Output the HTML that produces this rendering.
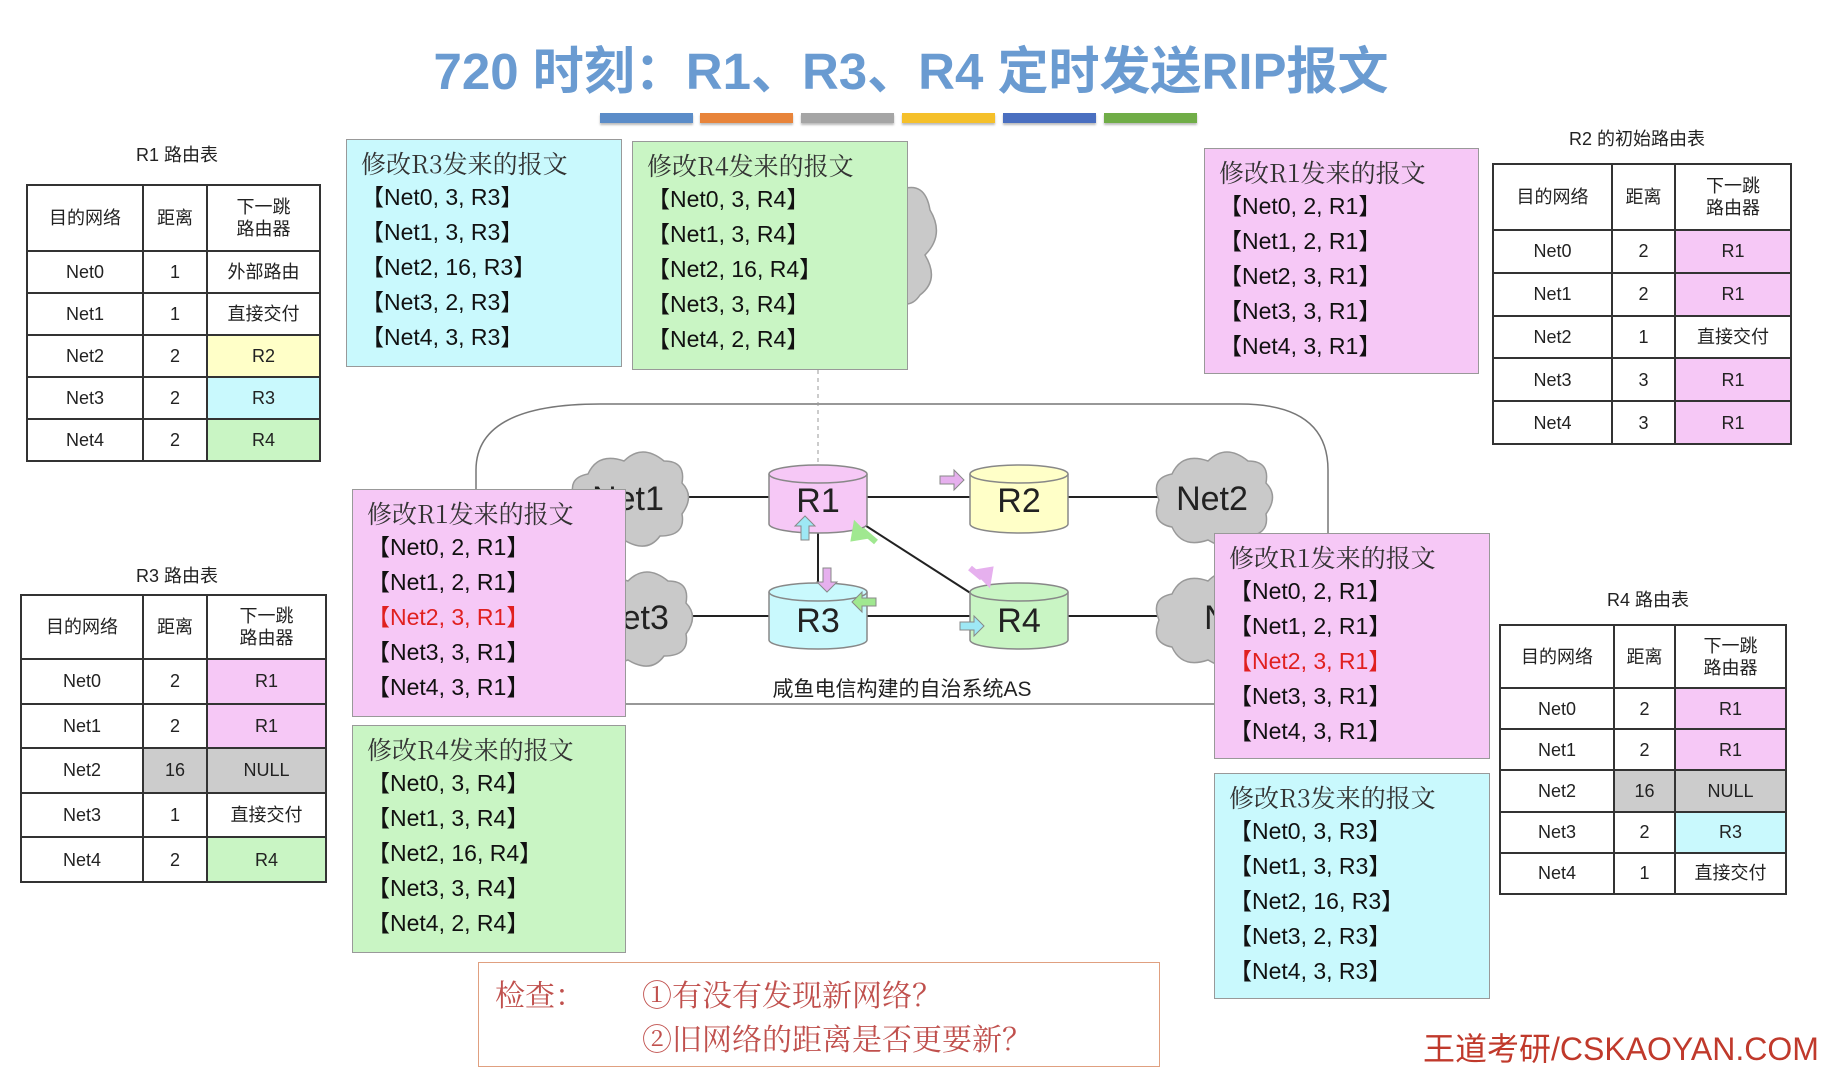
<!DOCTYPE html>
<html><head><meta charset="utf-8"><style>
body{margin:0;width:1822px;height:1079px;background:#fff;position:relative;overflow:hidden;font-family:"Liberation Sans","Noto Sans CJK SC",sans-serif}
.a{position:absolute}
.title{left:0;width:1822px;top:30px;text-align:center;font-size:51px;font-weight:bold;color:#6a9bd1}
.bar{position:absolute;top:113px;height:10px;width:93px;box-shadow:0 2px 2px #bbb}
table{position:absolute;border-collapse:collapse;font-size:18px;color:#222}
td{border:2px solid #333;text-align:center;padding:0;line-height:22px}
.lbl{font-size:18px;color:#222;text-align:center;width:200px}
.box{position:absolute;border:1.5px solid #999;box-sizing:border-box;padding:6px 0 0 14px;font-size:23px;line-height:35px;color:#111}
.box .t{font-size:25px;color:#333;margin-bottom:-1px;font-family:"Noto Serif CJK SC","Liberation Serif",serif}
.pk{background:#f6c8f6}.cy{background:#c9f9fd}.gr{background:#c9f5c4}
.red{color:#e02020}
</style></head><body>
<div class="a title">720 时刻：R1、R3、R4 定时发送RIP报文</div>
<div class="bar" style="left:600px;background:#5b8cc8"></div>
<div class="bar" style="left:700px;background:#e8843a"></div>
<div class="bar" style="left:801px;background:#a5a5a5"></div>
<div class="bar" style="left:902px;background:#f5c02a"></div>
<div class="bar" style="left:1003px;background:#4a6fc0"></div>
<div class="bar" style="left:1104px;background:#70ad47"></div>

<svg class="a" style="left:0;top:0" width="1822" height="1079">
<path d="M476 704 L476 470 Q476 404 600 404 L1240 404 Q1328 404 1328 470 L1328 704 Z" fill="none" stroke="#777" stroke-width="1.5"/>
<line x1="818" y1="370" x2="818" y2="465" stroke="#999" stroke-dasharray="4,4"/>
<line x1="627" y1="497" x2="1212" y2="497" stroke="#222" stroke-width="2"/>
<line x1="633" y1="616" x2="1197" y2="616" stroke="#222" stroke-width="2"/>
<line x1="818" y1="532" x2="818" y2="583" stroke="#222" stroke-width="2"/>
<line x1="860" y1="522" x2="972" y2="594" stroke="#222" stroke-width="2"/>
<g fill="#c9c9c9" stroke="#999" stroke-width="1.5">
<path d="M588 474 q10-22 36-13 q18-18 40 0 q22 0 18 22 q13 13 0 31 q4 22-22 22 q-13 18-36 4 q-26 9-36-13 q-22-4-13-27 q-9-22 13-26z"/>
<path d="M592 594 q10-22 36-13 q18-18 40 0 q22 0 18 22 q13 13 0 31 q4 22-22 22 q-13 18-36 4 q-26 9-36-13 q-22-4-13-27 q-9-22 13-26z"/>
<path d="M1172 474 q10-22 36-13 q18-18 40 0 q22 0 18 22 q13 13 0 31 q4 22-22 22 q-13 18-36 4 q-26 9-36-13 q-22-4-13-27 q-9-22 13-26z"/>
<path d="M1172 594 q10-22 36-13 q18-18 40 0 q22 0 18 22 q13 13 0 31 q4 22-22 22 q-13 18-36 4 q-26 9-36-13 q-22-4-13-27 q-9-22 13-26z"/>
<path d="M900 190 q25-10 30 20 q15 25-5 45 q15 25-5 40 q-10 15-25 5z"/>
</g>
<g font-size="34" fill="#222" text-anchor="middle">
<text x="628" y="510">Net1</text><text x="1212" y="510">Net2</text>
<text x="633" y="629">Net3</text><text x="1240" y="629">Net4</text>
</g>
<g stroke="#888" stroke-width="1.5">
<path d="M769 474 v50 a49 9 0 0 0 98 0 v-50" fill="#f6c8f6"/><ellipse cx="818" cy="474" rx="49" ry="9" fill="#f6c8f6"/>
<path d="M970 474 v50 a49 9 0 0 0 98 0 v-50" fill="#ffffc8"/><ellipse cx="1019" cy="474" rx="49" ry="9" fill="#ffffc8"/>
<path d="M769 592 v48 a49 9 0 0 0 98 0 v-48" fill="#c9f9fd"/><ellipse cx="818" cy="592" rx="49" ry="9" fill="#c9f9fd"/>
<path d="M970 592 v48 a49 9 0 0 0 98 0 v-48" fill="#c9f5c4"/><ellipse cx="1019" cy="592" rx="49" ry="9" fill="#c9f5c4"/>
</g>
<g font-size="34" fill="#222" text-anchor="middle">
<text x="818" y="512">R1</text><text x="1019" y="512">R2</text>
<text x="818" y="632">R3</text><text x="1019" y="632">R4</text>
</g>
<g stroke="#888" stroke-width="1">
<path d="M940 476 h14 v-6 l10 10 -10 10 v-6 h-14z" fill="#e6b0ee"/>
<path d="M801 540 v-14 h-6 l10 -10 10 10 h-6 v14z" fill="#9ee8f5"/>
<path d="M823 568 v14 h-6 l10 10 10-10 h-6 v-14z" fill="#e6b0ee"/>
<path d="M960 622 h14 v-6 l10 10 -10 10 v-6 h-14z" fill="#9ee8f5"/>
<path d="M876 598 h-14 v-6 l-10 10 10 10 v-6 h14z" fill="#a0e890"/>
<path d="M866 536 l-10 -10 -2 12z M862 530 l14 12" fill="#a0e890" stroke-width="6" stroke="#a0e890"/>
<path d="M978 572 l10 10 2-12z M982 578 l-12-10" fill="#e6b0ee" stroke-width="6" stroke="#e6b0ee"/>
</g>
<text x="902" y="696" font-size="21" fill="#222" text-anchor="middle">咸鱼电信构建的自治系统AS</text>
</svg>

<div class="a lbl" style="left:77px;top:141px">R1 路由表</div>
<table style="left:26px;top:184px;width:295px;height:278px">
<tr style="height:66px"><td style="width:114px">目的网络</td><td style="width:62px">距离</td><td>下一跳<br>路由器</td></tr>
<tr><td>Net0</td><td>1</td><td>外部路由</td></tr>
<tr><td>Net1</td><td>1</td><td>直接交付</td></tr>
<tr><td>Net2</td><td>2</td><td style="background:#ffffc8">R2</td></tr>
<tr><td>Net3</td><td>2</td><td style="background:#c9f9fd">R3</td></tr>
<tr><td>Net4</td><td>2</td><td style="background:#c9f5c4">R4</td></tr>
</table>

<div class="a lbl" style="left:77px;top:562px">R3 路由表</div>
<table style="left:20px;top:594px;width:307px;height:289px">
<tr style="height:64px"><td style="width:120px">目的网络</td><td style="width:62px">距离</td><td>下一跳<br>路由器</td></tr>
<tr><td>Net0</td><td>2</td><td style="background:#f6c8f6">R1</td></tr>
<tr><td>Net1</td><td>2</td><td style="background:#f6c8f6">R1</td></tr>
<tr><td>Net2</td><td style="background:#ccc">16</td><td style="background:#ccc">NULL</td></tr>
<tr><td>Net3</td><td>1</td><td>直接交付</td></tr>
<tr><td>Net4</td><td>2</td><td style="background:#c9f5c4">R4</td></tr>
</table>

<div class="a lbl" style="left:1537px;top:125px">R2 的初始路由表</div>
<table style="left:1492px;top:163px;width:300px;height:282px">
<tr style="height:66px"><td style="width:117px">目的网络</td><td style="width:61px">距离</td><td>下一跳<br>路由器</td></tr>
<tr><td>Net0</td><td>2</td><td style="background:#f6c8f6">R1</td></tr>
<tr><td>Net1</td><td>2</td><td style="background:#f6c8f6">R1</td></tr>
<tr><td>Net2</td><td>1</td><td>直接交付</td></tr>
<tr><td>Net3</td><td>3</td><td style="background:#f6c8f6">R1</td></tr>
<tr><td>Net4</td><td>3</td><td style="background:#f6c8f6">R1</td></tr>
</table>

<div class="a lbl" style="left:1548px;top:586px">R4 路由表</div>
<table style="left:1499px;top:624px;width:288px;height:271px">
<tr style="height:63px"><td style="width:112px">目的网络</td><td style="width:59px">距离</td><td>下一跳<br>路由器</td></tr>
<tr><td>Net0</td><td>2</td><td style="background:#f6c8f6">R1</td></tr>
<tr><td>Net1</td><td>2</td><td style="background:#f6c8f6">R1</td></tr>
<tr><td>Net2</td><td style="background:#ccc">16</td><td style="background:#ccc">NULL</td></tr>
<tr><td>Net3</td><td>2</td><td style="background:#c9f9fd">R3</td></tr>
<tr><td>Net4</td><td>1</td><td>直接交付</td></tr>
</table>

<div class="box cy" style="left:346px;top:139px;width:276px;height:228px"><div class="t">修改R3发来的报文</div>【Net0, 3, R3】<br>【Net1, 3, R3】<br>【Net2, 16, R3】<br>【Net3, 2, R3】<br>【Net4, 3, R3】</div>
<div class="box gr" style="left:632px;top:141px;width:276px;height:229px"><div class="t">修改R4发来的报文</div>【Net0, 3, R4】<br>【Net1, 3, R4】<br>【Net2, 16, R4】<br>【Net3, 3, R4】<br>【Net4, 2, R4】</div>
<div class="box pk" style="left:1204px;top:148px;width:275px;height:226px"><div class="t">修改R1发来的报文</div>【Net0, 2, R1】<br>【Net1, 2, R1】<br>【Net2, 3, R1】<br>【Net3, 3, R1】<br>【Net4, 3, R1】</div>
<div class="box pk" style="left:352px;top:489px;width:274px;height:228px"><div class="t">修改R1发来的报文</div>【Net0, 2, R1】<br>【Net1, 2, R1】<br><span class="red">【Net2, 3, R1】</span><br>【Net3, 3, R1】<br>【Net4, 3, R1】</div>
<div class="box gr" style="left:352px;top:725px;width:274px;height:228px"><div class="t">修改R4发来的报文</div>【Net0, 3, R4】<br>【Net1, 3, R4】<br>【Net2, 16, R4】<br>【Net3, 3, R4】<br>【Net4, 2, R4】</div>
<div class="box pk" style="left:1214px;top:533px;width:276px;height:226px"><div class="t">修改R1发来的报文</div>【Net0, 2, R1】<br>【Net1, 2, R1】<br><span class="red">【Net2, 3, R1】</span><br>【Net3, 3, R1】<br>【Net4, 3, R1】</div>
<div class="box cy" style="left:1214px;top:773px;width:276px;height:226px"><div class="t">修改R3发来的报文</div>【Net0, 3, R3】<br>【Net1, 3, R3】<br>【Net2, 16, R3】<br>【Net3, 2, R3】<br>【Net4, 3, R3】</div>

<div class="a" style="left:478px;top:962px;width:682px;height:105px;border:1.5px solid #e0a080;box-sizing:border-box;font-family:'Noto Serif CJK SC',serif;font-size:30px;color:#c0504d;line-height:44px;padding:8px 0 0 14px">
<div style="position:absolute;left:16px;top:8px">检查：</div>
<div style="position:absolute;left:163px;top:8px;white-space:nowrap">①有没有发现新网络？</div>
<div style="position:absolute;left:163px;top:52px;white-space:nowrap">②旧网络的距离是否更要新？</div>
</div>
<div class="a" style="left:1423px;top:1024px;font-size:32px;color:#c0392b;white-space:nowrap">王道考研/CSKAOYAN.COM</div>
</body></html>
